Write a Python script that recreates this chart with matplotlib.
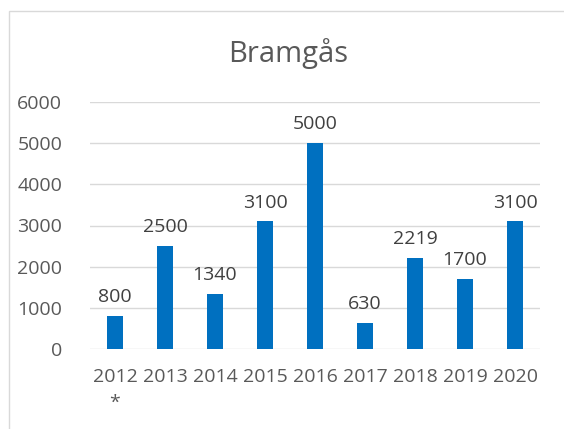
import matplotlib
matplotlib.use("Agg")
import matplotlib.pyplot as plt
from matplotlib.patches import Rectangle

years = ["2012\n*", "2013", "2014", "2015", "2016", "2017", "2018", "2019", "2020"]
counts = [800, 2500, 1340, 3100, 5000, 630, 2219, 1700, 3100]
yticks = [0, 1000, 2000, 3000, 4000, 5000, 6000]

plt.rcParams['font.family'] = ['Open Sans', 'DejaVu Sans']
txt = '#595959'

fig = plt.figure(figsize=(5.64, 4.29), dpi=100)
W, H = 564, 429
ax = fig.add_axes([90 / W, 1 - 349 / H, 450 / W, (349 - 102) / H])

x = list(range(len(years)))
bars = ax.bar(x, counts, width=0.31, color='#0070C0', zorder=3)
for xi, v in zip(x, counts):
    ax.annotate(str(v), (xi, v), xytext=(0, 7), textcoords='offset points',
                ha='center', va='bottom', fontsize=14, color='#404040')

ax.set_xlim(-0.5, len(years) - 0.5)
ax.set_ylim(0, 6000)
ax.set_yticks(yticks)
ax.set_yticklabels([str(t) for t in yticks])
ax.set_xticks(x)
ax.set_xticklabels(years, linespacing=1.5)
ax.tick_params(axis='both', length=0, labelsize=14, colors=txt)
ax.tick_params(axis='y', pad=20)
ax.tick_params(axis='x', pad=14)
for lab in ax.get_xticklabels():
    lab.set_verticalalignment('top')
ax.grid(axis='y', color='#D9D9D9', linewidth=1.0, zorder=0)
for s in ax.spines.values():
    s.set_visible(False)

fig.text(288 / W, 1 - 54 / H, 'Bramgås', ha='center', va='center', fontsize=21, color=txt)

fig.patches.append(Rectangle((9 / W, -0.1), 1.2, 1.1 - 11 / H, transform=fig.transFigure,
                             fill=False, edgecolor='#D9D9D9', linewidth=1.0))

fig.savefig('out.png', dpi=100)
